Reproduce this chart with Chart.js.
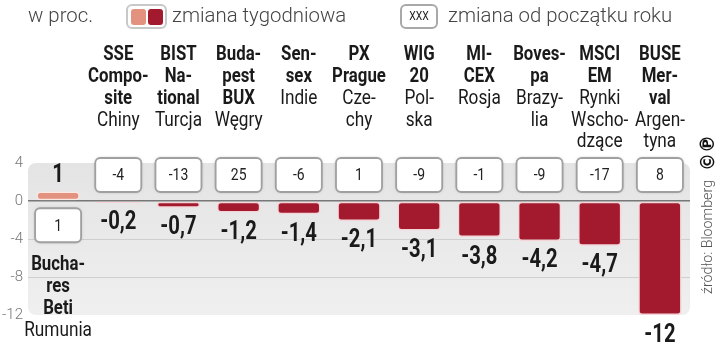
<!DOCTYPE html>
<html lang="pl">
<head>
    <meta charset="UTF-8">
    <title>Indeksy giełdowe - zmiana tygodniowa</title>
    <script src="https://cdn.jsdelivr.net/npm/chart.js"></script>
    <style>
        body { margin: 0; background: #fff; }
        #wrap { width: 720px; height: 348px; position: relative; }
    </style>
</head>
<body>
    <div id="wrap"><canvas id="chart" width="720" height="348"></canvas></div>

    <script>
        // data
        const names = [['Bucha-', 'res', 'Beti'], ['SSE', 'Compo-', 'site'], ['BIST', 'Na-', 'tional'],
            ['Buda-', 'pest', 'BUX'], ['Sen-', 'sex'], ['PX', 'Prague'], ['WIG', '20'], ['MI-', 'CEX'],
            ['Boves-', 'pa'], ['MSCI', 'EM'], ['BUSE', 'Mer-', 'val']];
        const countries = [['Rumunia'], ['Chiny'], ['Turcja'], ['Węgry'], ['Indie'], ['Cze-', 'chy'],
            ['Pol-', 'ska'], ['Rosja'], ['Brazy-', 'lia'], ['Rynki', 'Wscho-', 'dzące'], ['Argen-', 'tyna']];
        const weekly = [1, -0.2, -0.7, -1.2, -1.4, -2.1, -3.1, -3.8, -4.2, -4.7, -12];
        const ytd = [1, -4, -13, 25, -6, 1, -9, -1, -9, -17, 8];
        const yTicks = [4, 0, -4, -8, -12];

        const DARK = '#a31a2f';
        const LIGHT = '#e2927f';

        // text helper, sx < 1 gives a condensed look
        function txt(ctx, s, x, y, font, color, sx, align) {
            ctx.save();
            ctx.translate(x, y);
            ctx.scale(sx || 1, 1);
            ctx.font = font;
            ctx.fillStyle = color;
            ctx.textAlign = align || 'center';
            ctx.textBaseline = 'middle';
            ctx.fillText(s, 0, 0);
            ctx.restore();
        }

        function rrect(ctx, x, y, w, h, r) {
            ctx.beginPath();
            ctx.roundRect(x, y, w, h, r);
        }

        function ytdBox(ctx, x, y, s) {
            ctx.save();
            ctx.shadowColor = 'rgba(0,0,0,0.3)';
            ctx.shadowBlur = 3;
            rrect(ctx, x - 23, y - 17, 46, 34, 5);
            ctx.fillStyle = '#fff';
            ctx.fill();
            ctx.restore();
            rrect(ctx, x - 23, y - 17, 46, 34, 5);
            ctx.strokeStyle = '#a0a0a0';
            ctx.lineWidth = 1.8;
            ctx.stroke();
            txt(ctx, s, x, y + 1, '400 17px Roboto', '#222', 0.82);
        }

        const fmt = v => String(v).replace('.', ',');

        const panelBg = {
            id: 'panelBg',
            beforeDraw(chart) {
                const { ctx, chartArea: a } = chart;
                const g = ctx.createLinearGradient(0, a.top, 0, a.bottom);
                g.addColorStop(0, '#e4e4e4');
                g.addColorStop(1, '#efefef');
                rrect(ctx, a.left, a.top, a.right - a.left, a.bottom - a.top, 8);
                ctx.fillStyle = g;
                ctx.fill();
            }
        };

        const decor = {
            id: 'decor',
            afterDatasetsDraw(chart) {
                const { ctx } = chart;
                const bars = chart.getDatasetMeta(0).data;
                const x = chart.scales.x;
                const legendFont = '300 21px Roboto';

                // legend
                txt(ctx, 'w proc.', 28, 17, legendFont, '#444', 0.97, 'left');
                rrect(ctx, 127, 5, 39, 23, 5);
                ctx.fillStyle = '#fff';
                ctx.fill();
                ctx.strokeStyle = '#c8c8c8';
                ctx.lineWidth = 2;
                ctx.stroke();
                rrect(ctx, 131, 9, 15, 16, 3);
                ctx.fillStyle = LIGHT;
                ctx.fill();
                rrect(ctx, 148, 9, 15, 16, 3);
                ctx.fillStyle = DARK;
                ctx.fill();
                txt(ctx, 'zmiana tygodniowa', 172, 17, legendFont, '#444', 0.97, 'left');
                rrect(ctx, 401, 5, 36, 23, 5);
                ctx.fillStyle = '#fff';
                ctx.fill();
                ctx.strokeStyle = '#a8a8a8';
                ctx.lineWidth = 2;
                ctx.stroke();
                txt(ctx, 'XXX', 419, 17, '400 13px Roboto', '#222', 0.8);
                txt(ctx, 'zmiana od początku roku', 448, 17, legendFont, '#444', 0.97, 'left');

                // headers
                names.forEach((lines, i) => {
                    const cx = x.getPixelForValue(i);
                    const y0 = i === 0 ? 265 : 55;
                    let k = 0;
                    lines.forEach(l => { txt(ctx, l, cx, y0 + 21.8 * k++, '700 21px Roboto', '#1a1a1a', 0.8); });
                    countries[i].forEach(l => { txt(ctx, l, cx, y0 + 21.8 * k++, '400 21px Roboto', '#1a1a1a', 0.82); });
                });

                // value labels and year-to-date boxes
                bars.forEach((b, i) => {
                    const v = weekly[i];
                    if (v >= 0) {
                        txt(ctx, fmt(v), b.x, b.y - 16, '700 26px Roboto', '#1a1a1a', 0.78);
                        ytdBox(ctx, b.x, b.base + 25, String(ytd[i]));
                    } else {
                        txt(ctx, fmt(v), b.x, b.y + 20, '700 26px Roboto', '#1a1a1a', 0.78);
                        ytdBox(ctx, b.x, 175, String(ytd[i]));
                    }
                });

                // source
                ctx.save();
                ctx.translate(708, 0);
                ctx.rotate(-Math.PI / 2);
                txt(ctx, 'źródło: Bloomberg', -294, 0, '300 15px Roboto', '#555', 0.95, 'left');
                txt(ctx, '©℗', -153, 1, '700 20px "DejaVu Sans"', '#111', 0.9);
                ctx.restore();
            }
        };

        new Chart(document.getElementById('chart'), {
            type: 'bar',
            data: {
                labels: names.map(n => n.join('')),
                datasets: [{
                    data: weekly,
                    backgroundColor: weekly.map(v => v >= 0 ? LIGHT : DARK),
                    borderColor: weekly.map(v => v >= 0 ? '#fbe6e0' : '#f6d3d6'),
                    borderWidth: 1.5,
                    borderRadius: 4,
                    borderSkipped: false,
                    barPercentage: 0.72,
                    categoryPercentage: 1
                }]
            },
            options: {
                responsive: false,
                animation: false,
                layout: { padding: { top: 163, bottom: 33, right: 30, left: 0 } },
                plugins: { legend: { display: false }, tooltip: { enabled: false } },
                scales: {
                    x: { display: false },
                    y: {
                        min: yTicks[yTicks.length - 1],
                        max: yTicks[0],
                        afterFit: s => { s.width = 28; },
                        afterBuildTicks: s => { s.ticks = yTicks.map(v => ({ value: v })); },
                        border: { display: false },
                        grid: {
                            drawTicks: false,
                            color: c => c.tick.value === 0 ? '#777' :
                                (c.tick.value === yTicks[0] || c.tick.value === yTicks[yTicks.length - 1]) ? 'rgba(0,0,0,0)' : '#cfcfcf',
                            lineWidth: c => c.tick.value === 0 ? 1.5 : 1
                        },
                        ticks: {
                            padding: 5,
                            color: '#777',
                            font: { family: 'Roboto', size: 15, weight: 300 }
                        }
                    }
                }
            },
            plugins: [panelBg, decor]
        });
    </script>
</body>
</html>
